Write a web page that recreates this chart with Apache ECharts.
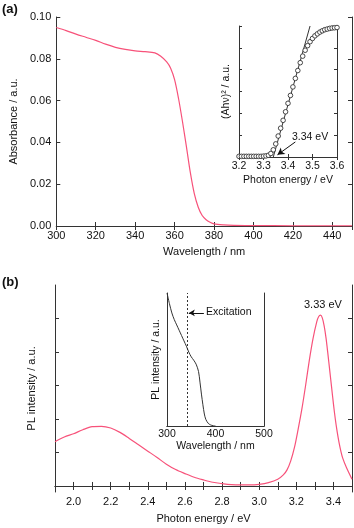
<!DOCTYPE html>
<html>
<head>
<meta charset="utf-8">
<script src="https://cdn.jsdelivr.net/npm/echarts@6/dist/echarts.min.js"></script>
<style>
  html, body { margin: 0; padding: 0; background: #fff; }
  #chart { width: 354px; height: 528px; }
</style>
</head>
<body>
<div id="chart"></div>
<script>
// (a) absorbance spectrum
const absWavelength = [300, 305, 310, 315, 320, 325, 330, 335, 340, 345, 350, 353, 356, 358, 360, 362, 364, 366, 368, 370, 372, 374, 376, 378, 380, 385, 390, 400, 420, 450];
const absValue = [0.0950, 0.0935, 0.0918, 0.0903, 0.0888, 0.0870, 0.0855, 0.0845, 0.0838, 0.0834, 0.0828, 0.0812, 0.0785, 0.0755, 0.0700, 0.0610, 0.0500, 0.0380, 0.0255, 0.0155, 0.0090, 0.0050, 0.0030, 0.0018, 0.0010, 0.0005, 0.0003, 0.0002, 0.0001, 0.0001];

// (a) inset: Tauc plot
const taucEnergy = [3.20, 3.21, 3.22, 3.23, 3.24, 3.25, 3.26, 3.27, 3.28, 3.29, 3.30, 3.31, 3.32, 3.33, 3.34, 3.35, 3.36, 3.37, 3.38, 3.39, 3.40, 3.41, 3.42, 3.43, 3.44, 3.45, 3.46, 3.47, 3.48, 3.49, 3.50, 3.51, 3.52, 3.53, 3.54, 3.55, 3.56, 3.57, 3.58, 3.59, 3.60];
const taucValue = [0.03, 0.03, 0.03, 0.03, 0.03, 0.03, 0.03, 0.03, 0.03, 0.03, 0.04, 0.05, 0.08, 0.16, 0.33, 0.6, 0.96, 1.32, 1.68, 2.07, 2.46, 2.82, 3.21, 3.6, 3.96, 4.32, 4.62, 4.89, 5.1, 5.28, 5.43, 5.55, 5.64, 5.72, 5.78, 5.83, 5.86, 5.89, 5.91, 5.92, 5.93];
const fitLine = [[3.34, 0], [3.49, 6]];

// (b) PL spectrum
const plEnergy = [1.90, 1.95, 2.00, 2.05, 2.10, 2.15, 2.20, 2.25, 2.30, 2.35, 2.40, 2.45, 2.50, 2.55, 2.60, 2.65, 2.70, 2.75, 2.80, 2.85, 2.90, 2.95, 3.00, 3.05, 3.10, 3.13, 3.15, 3.17, 3.19, 3.21, 3.23, 3.25, 3.27, 3.29, 3.31, 3.32, 3.33, 3.34, 3.35, 3.36, 3.37, 3.38, 3.39, 3.40, 3.41, 3.42, 3.43, 3.44, 3.45, 3.47, 3.50];
const plValue = [1.32, 1.46, 1.56, 1.68, 1.77, 1.78, 1.73, 1.60, 1.42, 1.23, 1.04, 0.85, 0.65, 0.49, 0.37, 0.26, 0.18, 0.11, 0.07, 0.04, 0.03, 0.03, 0.05, 0.10, 0.20, 0.33, 0.48, 0.75, 1.15, 1.70, 2.30, 3.00, 3.75, 4.40, 4.90, 5.05, 5.10, 5.02, 4.78, 4.42, 3.95, 3.45, 2.95, 2.45, 2.00, 1.62, 1.30, 1.04, 0.83, 0.55, 0.20];

// (b) inset: absorption / excitation
const insWavelength = [300, 305, 310, 315, 320, 325, 330, 335, 340, 345, 350, 355, 360, 365, 368, 371, 374, 377, 380, 385, 390, 395, 400];
const insValue = [1.0, 0.92, 0.85, 0.80, 0.76, 0.72, 0.68, 0.64, 0.60, 0.555, 0.52, 0.495, 0.465, 0.41, 0.33, 0.24, 0.16, 0.09, 0.05, 0.02, 0.008, 0.002, 0.0];
const excitation = 341;

const plTicks = [2.0, 2.1, 2.2, 2.3, 2.4, 2.5, 2.6, 2.7, 2.8, 2.9, 3.0, 3.1, 3.2, 3.3, 3.4];
const plLabels = [2.0, 2.2, 2.4, 2.6, 2.8, 3.0, 3.2, 3.4];

const red = '#f7527a';
const ink = '#333';
const font = 'Liberation Sans';

const grids = [
  { left: 54, top: 17, width: 298, height: 209 },
  { left: 239, top: 26, width: 98, height: 131 },
  { left: 55, top: 285, width: 297, height: 207 },
  { left: 167, top: 293, width: 97, height: 133 }
];

// one framed box per grid: bottom/left axes with labels, top/right mirrored ticks
function boxAxes(g, xo, yo) {
  const line = { show: true, lineStyle: { color: ink, width: 1 } };
  const tick = Object.assign({ show: true, inside: true, length: 4, lineStyle: { color: ink } }, xo.tick || {});
  const ytick = Object.assign({ show: true, inside: true, length: 4, lineStyle: { color: ink } }, yo.tick || {});
  const xs = [
    {
      type: 'value', gridIndex: g, position: 'bottom', min: xo.min, max: xo.max, interval: xo.interval,
      axisLine: line, axisTick: tick, splitLine: { show: false },
      axisLabel: Object.assign({ color: '#111', fontFamily: font, fontSize: xo.fs, margin: xo.margin }, xo.label || {}),
      name: xo.name, nameLocation: 'middle', nameGap: xo.gap,
      nameTextStyle: { color: '#111', fontFamily: font, fontSize: xo.fs }
    },
    {
      type: 'value', gridIndex: g, position: 'top', min: xo.min, max: xo.max, interval: xo.interval,
      axisLine: line, axisTick: tick, axisLabel: { show: false }, splitLine: { show: false }
    }
  ];
  const ys = [
    {
      type: 'value', gridIndex: g, position: 'left', min: yo.min, max: yo.max, interval: yo.interval,
      axisLine: line, axisTick: ytick, splitLine: { show: false },
      axisLabel: Object.assign({ color: '#111', fontFamily: font, fontSize: xo.fs, margin: 5 }, yo.label || { show: false }),
      name: yo.name, nameLocation: 'middle', nameGap: yo.gap, nameRotate: 90,
      nameTextStyle: { color: '#111', fontFamily: font, fontSize: xo.fs }
    },
    {
      type: 'value', gridIndex: g, position: 'right', min: yo.min, max: yo.max, interval: yo.interval,
      axisLine: line, axisTick: ytick, axisLabel: { show: false }, splitLine: { show: false }
    }
  ];
  return { xs, ys };
}

const boxes = [
  boxAxes(0,
    { min: 300, max: 450, interval: 20, fs: 11, margin: 4, name: 'Wavelength / nm', gap: 20, label: { showMaxLabel: false } },
    { min: 0, max: 0.1, interval: 0.02, name: 'Absorbance / a.u.', gap: 36,
      label: { show: true, color: '#111', fontFamily: font, fontSize: 11, margin: 5, formatter: v => v.toFixed(2) } }),
  boxAxes(1,
    { min: 3.2, max: 3.6, interval: 0.1, fs: 10.5, margin: 4, name: 'Photon energy / eV', gap: 18,
      label: { formatter: v => v.toFixed(1) }, tick: { length: 3 } },
    { min: 0, max: 6, interval: 1, name: '(Ahν)² / a.u.', gap: 7, tick: { length: 3 } }),
  boxAxes(2,
    { min: 1.9, max: 3.5, fs: 11, margin: 4, name: 'Photon energy / eV', gap: 21,
      label: { customValues: plLabels, formatter: v => v.toFixed(1) }, tick: { customValues: plTicks } },
    { min: -0.18, max: 6, name: 'PL intensity / a.u.', gap: 18, tick: { customValues: [0, 1, 2, 3, 4, 5] } }),
  boxAxes(3,
    { min: 300, max: 500, interval: 100, fs: 10.5, margin: 3, name: 'Wavelength / nm', gap: 15, tick: { show: false } },
    { min: 0, max: 1, interval: 1, name: 'PL intensity / a.u.', gap: 5, tick: { show: false } })
];

const xAxis = [];
const yAxis = [];
boxes.forEach(b => { xAxis.push(...b.xs); yAxis.push(...b.ys); });

const zip = (xs, ys) => xs.map((x, i) => [x, ys[i]]);

const chart = echarts.init(document.getElementById('chart'), null, { renderer: 'canvas' });
chart.setOption({
  backgroundColor: '#fff',
  animation: false,
  grid: grids,
  xAxis: xAxis,
  yAxis: yAxis,
  series: [
    {
      type: 'line', xAxisIndex: 0, yAxisIndex: 0, data: zip(absWavelength, absValue),
      showSymbol: false, smooth: 0.3, lineStyle: { color: red, width: 1.2 }
    },
    {
      type: 'line', xAxisIndex: 2, yAxisIndex: 2, data: fitLine,
      showSymbol: false, lineStyle: { color: ink, width: 1 }, z: 3
    },
    {
      type: 'line', xAxisIndex: 2, yAxisIndex: 2, data: zip(taucEnergy, taucValue),
      symbol: 'circle', symbolSize: 4.6, showSymbol: true, showAllSymbol: true,
      lineStyle: { width: 0 },
      itemStyle: { color: '#fff', borderColor: ink, borderWidth: 0.9 }, z: 4,
      markLine: {
        silent: true, symbol: ['none', 'arrow'], symbolSize: [6, 7],
        lineStyle: { color: '#111', width: 1, type: 'solid' }, label: { show: false },
        data: [[{ coord: [3.43, 0.69] }, { coord: [3.357, 0.1] }]]
      }
    },
    {
      type: 'line', xAxisIndex: 4, yAxisIndex: 4, data: zip(plEnergy, plValue),
      showSymbol: false, smooth: 0.3, lineStyle: { color: red, width: 1.2 }
    },
    {
      type: 'line', xAxisIndex: 6, yAxisIndex: 6, data: zip(insWavelength, insValue),
      showSymbol: false, smooth: 0.3, lineStyle: { color: ink, width: 1 },
      markLine: {
        silent: true, symbol: ['none', 'none'], label: { show: false },
        lineStyle: { color: ink, width: 1, type: [2, 2] },
        data: [{ xAxis: excitation }]
      }
    },
    {
      type: 'line', xAxisIndex: 6, yAxisIndex: 6, data: [],
      markLine: {
        silent: true, symbol: ['none', 'arrow'], symbolSize: [5, 6], label: { show: false },
        lineStyle: { color: '#111', width: 1, type: 'solid' },
        data: [[{ coord: [376, 0.85] }, { coord: [345, 0.85] }]]
      }
    }
  ],
  graphic: [
    { type: 'text', left: 2, top: 3, style: { text: '(a)', font: 'bold 13px "Liberation Sans"', fill: '#111' } },
    { type: 'text', left: 2, top: 276, style: { text: '(b)', font: 'bold 13px "Liberation Sans"', fill: '#111' } },
    { type: 'text', left: 292, top: 132, style: { text: '3.34 eV', font: '10.5px "Liberation Sans"', fill: '#111' } },
    { type: 'text', left: 304, top: 299, style: { text: '3.33 eV', font: '11px "Liberation Sans"', fill: '#111' } },
    { type: 'text', left: 206, top: 307, style: { text: 'Excitation', font: '10.5px "Liberation Sans"', fill: '#111' } }
  ]
});
</script>
</body>
</html>
